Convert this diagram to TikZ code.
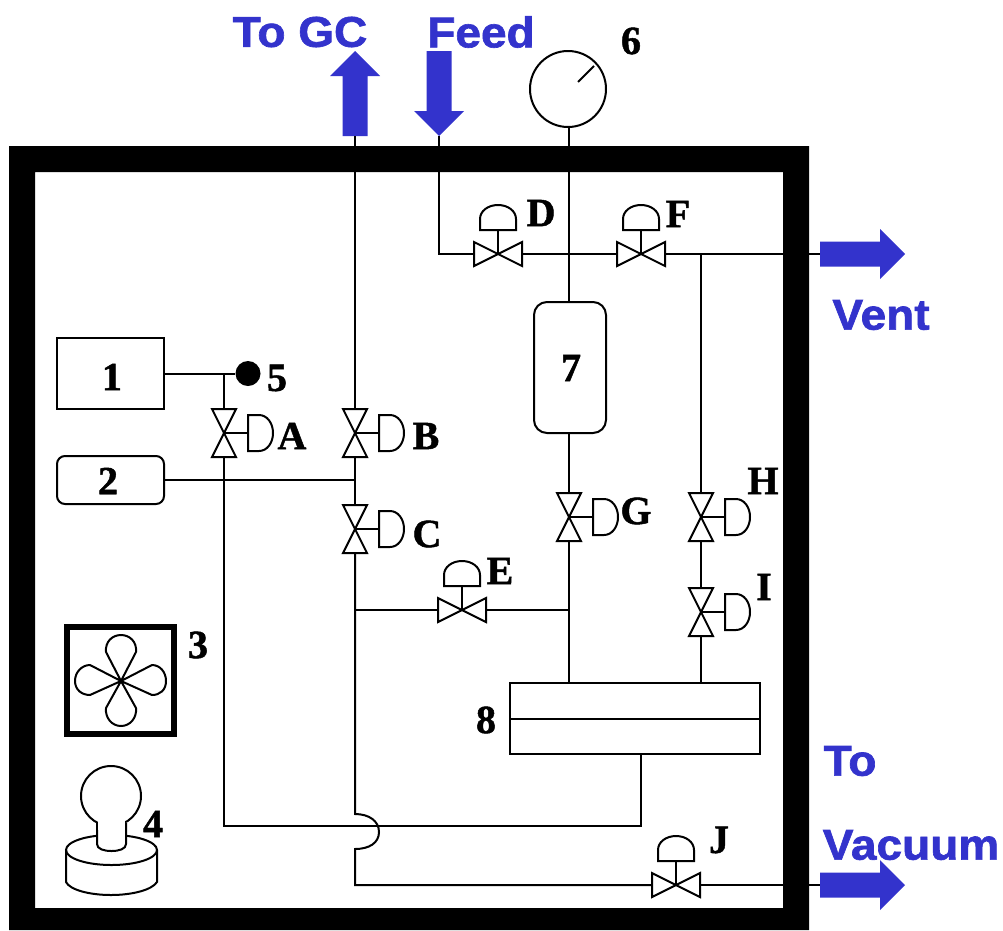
\documentclass[tikz,border=0pt]{standalone}
\usepackage{fontspec}
\usetikzlibrary{shapes.geometric}
\setmainfont{Liberation Serif}[BoldFeatures={FakeBold=1.2}]
\setsansfont{Liberation Sans}[BoldFeatures={FakeBold=1.5,FakeStretch=1.07}]
\definecolor{flowblue}{RGB}{51,51,204}
\tikzset{
  pipe/.style={draw,line width=2pt},
  tag/.style={inner sep=0pt,font=\fontsize{40}{40}\selectfont\bfseries},
  flowtag/.style={inner sep=0pt,text=flowblue,font=\fontsize{43}{43}\selectfont\sffamily\bfseries},
  valve/.pic={
    \path[pipe] (0,0) -- (0,-24);
    \path[pipe] (-18,-24) -- (-18,-35) .. controls (-18,-43) and (-10,-49) .. (0,-49)
      .. controls (10,-49) and (18,-43) .. (18,-35) -- (18,-24) -- cycle;
    \path[pipe,fill=white] (0,0) -- (-24,-12) -- (-24,12) -- cycle;
    \path[pipe,fill=white] (0,0) -- (24,-12) -- (24,12) -- cycle;
    \coordinate (-in) at (-24,0);
    \coordinate (-out) at (24,0);
  },
  flowarrow/.pic={
    \fill[flowblue] (0,-12.5) -- (60,-12.5) -- (60,-25) -- (85,0) -- (60,25) -- (60,12.5) -- (0,12.5) -- cycle;
    \coordinate (-base) at (0,0);
    \coordinate (-tip) at (85,0);
  },
}
\begin{document}
\begin{tikzpicture}[x=1pt,y=-1pt]
\useasboundingbox (0,0) rectangle (1003,930);

% chamber wall
\fill[black,even odd rule] (9,146) rectangle (809,930) (35,172) rectangle (783,908);

% vessels and boxes
\node[draw,line width=2pt,minimum width=107pt,minimum height=71pt,inner sep=0pt] (1) at (110.5,373.5) {};
\node[draw,line width=2pt,rounded corners=8pt,minimum width=107pt,minimum height=48pt,inner sep=0pt] (2) at (110.5,480) {};
\node[draw,line width=2pt,rounded corners=13pt,minimum width=72pt,minimum height=131pt,inner sep=0pt] (7) at (570,367.5) {};
\node[draw,line width=2pt,minimum width=250pt,minimum height=71pt,inner sep=0pt] (8) at (635,718.5) {};
\node[draw,circle,line width=2pt,minimum size=76pt,inner sep=0pt] (6) at (568,89) {};
\node[circle,fill=black,minimum size=25pt,inner sep=0pt] (5) at (248,373.5) {};
\path[pipe] (8.west) -- (8.east);
\path[pipe] (578,82) -- (594,66);

% valves
\pic[rotate=-90] (vA) at (224,433) {valve};
\pic[rotate=-90] (vB) at (355,433) {valve};
\pic[rotate=-90] (vC) at (355,529) {valve};
\pic[rotate=-90] (vG) at (569,517) {valve};
\pic[rotate=-90] (vH) at (701,517) {valve};
\pic[rotate=-90] (vI) at (701,612) {valve};
\pic (vD) at (498,254) {valve};
\pic (vF) at (641,254) {valve};
\pic (vE) at (462,610) {valve};
\pic (vJ) at (676,885) {valve};

% flow arrows
\pic[rotate=90] (aGC) at (355,136) {flowarrow};
\pic[rotate=-90] (aFeed) at (439,51) {flowarrow};
\pic (aVent) at (820,254) {flowarrow};
\pic (aVac) at (820,885) {flowarrow};

% junctions
\coordinate (feedcorner) at (439,254);
\coordinate (j1) at (224,373.5);
\coordinate (j2) at (355,480);
\coordinate (jE) at (355,610);
\coordinate (jG) at (569,610);
\coordinate (jH) at (701,254);
\coordinate (gaugeout) at (569,127);
\coordinate (top7) at (569,302);
\coordinate (bot7) at (569,433);
\coordinate (top8G) at (569,683);
\coordinate (top8I) at (701,683);
\coordinate (bot8) at (641,754);
\coordinate (cornerA) at (224,826);
\coordinate (cornerB) at (641,826);
\coordinate (hopin) at (355,814);
\coordinate (hopout) at (355,849);
\coordinate (cornerJ) at (355,885);

% piping
\path[pipe] (aGC-base) -- (vB-in);
\path[pipe] (vB-out) -- (vC-in);
\path[pipe] (vC-out) -- (hopin) .. controls (369,814) and (379,821) .. (379,832)
  .. controls (379,843) and (369,849) .. (hopout) -- (cornerJ) -- (vJ-in);
\path[pipe] (vJ-out) -- (aVac-base);
\path[pipe] (aFeed-tip) -- (feedcorner) -- (vD-in);
\path[pipe] (vD-out) -- (vF-in);
\path[pipe] (vF-out) -- (aVent-base);
\path[pipe] (gaugeout) -- (top7);
\path[pipe] (bot7) -- (vG-in);
\path[pipe] (vG-out) -- (top8G);
\path[pipe] (jH) -- (vH-in);
\path[pipe] (vH-out) -- (vI-in);
\path[pipe] (vI-out) -- (top8I);
\path[pipe] (1.east) -- (5);
\path[pipe] (j1) -- (vA-in);
\path[pipe] (vA-out) -- (cornerA) -- (cornerB) -- (bot8);
\path[pipe] (2.east) -- (j2);
\path[pipe] (jE) -- (vE-in);
\path[pipe] (vE-out) -- (jG);

% fan
\node[draw,line width=6pt,minimum size=107pt,inner sep=0pt] (fan) at (120,680.5) {};
\coordinate (hub) at (121,681);
\path[pipe,line join=round] (hub) -- (106,652) .. controls (105,642) and (112,635) .. (121,635)
  .. controls (130,635) and (137,642) .. (136,652) -- (hub)
  -- (152,665) .. controls (160,665) and (166,672) .. (166,681)
  .. controls (166,690) and (160,695) .. (152,695) -- (hub)
  -- (136,708) .. controls (137,718) and (130,726) .. (121,726)
  .. controls (112,726) and (105,718) .. (106,708) -- (hub)
  -- (90,695) .. controls (82,695) and (75,690) .. (75,681)
  .. controls (75,672) and (82,665) .. (90,665) -- cycle;

% pump
\path[pipe] (66,850) -- (66,882) .. controls (70,890) and (90,895) .. (111,895)
  .. controls (132,895) and (152,890) .. (157,882) -- (157,850);
\node[draw,ellipse,line width=2pt,minimum width=91pt,minimum height=30pt,inner sep=0pt] (base4) at (111.5,850) {};
\node[draw,circle,line width=2pt,minimum size=60pt,inner sep=0pt] (bulb) at (111,796) {};
\path[pipe,fill=white] (97,823) -- (97,844) .. controls (97,849) and (104,851) .. (111.5,851)
  .. controls (119,851) and (126,849) .. (126,844) -- (126,823);
\fill[white] (98,815) rectangle (125,830);

% labels
\node[tag] (t1) at (112,377) {1};
\node[tag] (t2) at (108,481) {2};
\node[tag] (t3) at (198,645) {3};
\node[tag] (t4) at (153,824) {4};
\node[tag] (t5) at (277,378) {5};
\node[tag] (t6) at (631,41) {6};
\node[tag] (t7) at (571,368) {7};
\node[tag] (t8) at (486,720) {8};
\node[tag] (tA) at (292,436) {A};
\node[tag] (tB) at (426,436) {B};
\node[tag] (tC) at (427,534) {C};
\node[tag] (tD) at (541,213) {D};
\node[tag] (tE) at (500,571) {E};
\node[tag] (tF) at (678,214) {F};
\node[tag] (tG) at (636,511) {G};
\node[tag] (tH) at (763,481) {H};
\node[tag] (tI) at (764,587) {I};
\node[tag] (tJ) at (719,840) {J};
\node[flowtag] (tGC) at (300,32) {To GC};
\node[flowtag] (tFeed) at (481,32) {Feed};
\node[flowtag] (tVent) at (881,315) {Vent};
\node[flowtag] (tTo) at (850,761) {To};
\node[flowtag] (tVac) at (911,845) {Vacuum};
\end{tikzpicture}
\end{document}
